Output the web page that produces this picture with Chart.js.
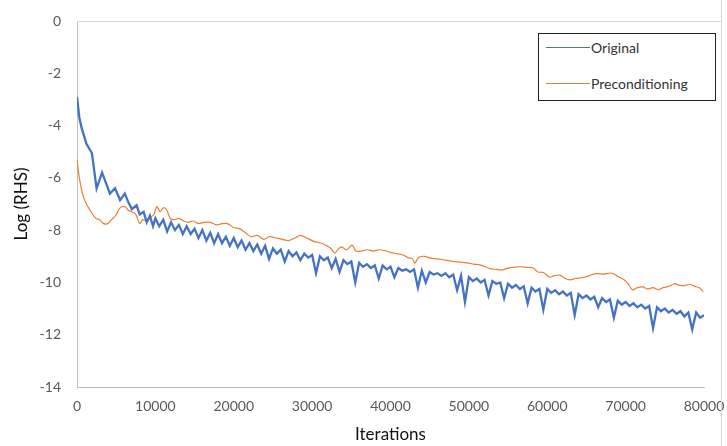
<!DOCTYPE html>
<html>
<head>
<meta charset="utf-8">
<script src="https://cdn.jsdelivr.net/npm/chart.js@4/dist/chart.umd.min.js"></script>
<style>
  body { margin: 0; background: #fff; }
  #wrap { position: relative; width: 727px; height: 446px; }
  #legend {
    position: absolute; left: 538px; top: 33px; width: 176px; height: 66px;
    border: 1.5px solid #222; background: #fff; font-family: Lato, "Open Sans", sans-serif;
    font-size: 14px; color: #333;
  }
  .row { position: absolute; left: 7px; display: flex; align-items: center; }
  .row span.line { display: inline-block; width: 44px; height: 0; border-top: 1.3px solid; margin-right: 1px; }
</style>
</head>
<body>
<div id="wrap">
  <canvas id="chart" width="727" height="446"></canvas>
  <div id="legend"></div>
</div>
<script>
const seriesNames = ['Original', 'Preconditioning'];
const seriesColors = ['#4472C4', '#ED7D31'];
const xTicks = [0, 10000, 20000, 30000, 40000, 50000, 60000, 70000, 80000];
const yTicks = [0, -2, -4, -6, -8, -10, -12, -14];

// Original (blue)
const origX = [
    0, 300, 600, 1200, 1900, 2500, 3200, 3700, 4200, 4850, 5500, 6100, 6500, 7000, 7600, 8000, 8500, 8900, 9300, 9700,
    10000, 10500, 11000, 11500, 12000, 12500, 13000, 13500, 14000, 14500, 15000, 15500, 16000, 16500, 17000, 17500,
    18000, 18500, 19000, 19500, 20000, 20500, 21000, 21500, 22000, 22500, 23000, 23500, 24000, 24500, 25000, 25500,
    26000, 26500, 27000, 27500, 28000, 28500, 29000, 29500, 30000, 30500, 31000, 31500, 32000, 32500, 33000, 33500,
    34000, 34500, 35000, 35500, 36000, 36500, 37000, 37500, 38000, 38500, 39000, 39500, 40000, 40500, 41000, 41500,
    42000, 42500, 43000, 43500, 44000, 44500, 45000, 45500, 46000, 46500, 47000, 47500, 48000, 48500, 49000, 49500,
    50000, 50500, 51000, 51500, 52000, 52500, 53000, 53500, 54000, 54500, 55000, 55500, 56000, 56500, 57000, 57500,
    58000, 58500, 59000, 59500, 60000, 60500, 61000, 61500, 62000, 62500, 63000, 63500, 64000, 64500, 65000, 65500,
    66000, 66500, 67000, 67500, 68000, 68500, 69000, 69500, 70000, 70500, 71000, 71500, 72000, 72500, 73000, 73500,
    74000, 74500, 75000, 75500, 76000, 76500, 77000, 77500, 78000, 78500, 79000, 79500, 80000
];
const origY = [
    -2.9, -3.7, -4.1, -4.7, -5.05, -6.4, -5.8, -6.2, -6.6, -6.4, -6.85, -6.6, -6.9, -7.2, -7.05, -7.4, -7.3, -7.7, -7.45, -7.85,
    -7.55, -7.85, -7.6, -8.05, -7.7, -8.0, -7.8, -8.15, -7.85, -8.15, -7.95, -8.3, -8.0, -8.4, -8.1, -8.5,
    -8.15, -8.5, -8.25, -8.6, -8.3, -8.65, -8.4, -8.75, -8.5, -8.8, -8.55, -8.9, -8.6, -9.1, -8.7, -8.9,
    -8.75, -9.2, -8.8, -9.0, -8.85, -9.15, -8.9, -9.05, -8.95, -9.65, -9.0, -9.15, -9.05, -9.45, -9.1, -9.6,
    -9.15, -9.3, -9.2, -10.0, -9.25, -9.4, -9.3, -9.45, -9.35, -9.85, -9.35, -9.5, -9.4, -9.8, -9.45, -9.55,
    -9.5, -9.6, -9.5, -10.2, -9.55, -10.0, -9.6, -9.7, -9.65, -9.75, -9.65, -9.8, -9.7, -10.3, -9.75, -10.75,
    -9.8, -9.95, -9.85, -10.0, -9.9, -10.5, -9.95, -10.05, -10.0, -10.6, -10.05, -10.2, -10.1, -10.25, -10.15, -10.8,
    -10.2, -10.35, -10.25, -11.05, -10.25, -10.4, -10.3, -10.45, -10.35, -10.5, -10.4, -11.25, -10.45, -10.6, -10.5, -10.65,
    -10.55, -10.95, -10.6, -10.75, -10.65, -11.35, -10.7, -10.85, -10.75, -10.9, -10.8, -10.95, -10.85, -11.0, -10.9, -11.75,
    -10.95, -11.1, -11.0, -11.15, -11.05, -11.2, -11.1, -11.3, -11.15, -11.8, -11.15, -11.35, -11.25
];

// Preconditioning (orange)
const preX = [
    0, 300, 700, 1200, 1800, 2400, 2900, 3400, 3900, 4400, 4900, 5500, 6100, 6600, 7000, 7500, 8000, 8400, 8900, 9400,
    9800, 10200, 10600, 11000, 11400, 11900, 12400, 13000, 13600, 14200, 14800, 15500, 16200, 17000, 17800, 18500,
    19200, 20000, 20800, 21500, 22200, 23000, 23800, 24600, 25400, 26200, 27000, 27800, 28500, 29300, 30000, 30400,
    31200, 31900, 32400, 32900, 33400, 33800, 34400, 35100, 35600, 36300, 37000, 37800, 38500, 39200, 40000, 40800,
    41600, 42200, 42800, 43100, 43600, 44300, 45200, 46000, 47000, 48000, 48900, 49800, 50600, 51400, 52100, 52700,
    53500, 54300, 55000, 55800, 56500, 57300, 58200, 58800, 59500, 60300, 60800, 61600, 62300, 62900, 63600, 64300,
    65000, 65700, 66400, 67200, 68000, 68500, 69200, 69800, 70300, 70900, 71500, 72200, 72800, 73500, 74200, 74800,
    75500, 76200, 76800, 77500, 78200, 78800, 79400, 79900
];
const preY = [
    -5.3, -6.0, -6.6, -7.0, -7.3, -7.55, -7.6, -7.75, -7.75, -7.6, -7.45, -7.15, -7.1, -7.25, -7.3, -7.4, -7.75, -7.6, -7.65, -7.5,
    -7.4, -7.1, -7.3, -7.15, -7.2, -7.55, -7.6, -7.55, -7.65, -7.7, -7.65, -7.75, -7.7, -7.7, -7.8, -7.75,
    -7.75, -7.9, -7.95, -8.1, -8.25, -8.2, -8.35, -8.25, -8.3, -8.35, -8.4, -8.3, -8.2, -8.3, -8.4, -8.45,
    -8.5, -8.6, -8.7, -8.88, -8.7, -8.65, -8.75, -8.57, -8.8, -8.8, -8.75, -8.8, -8.75, -8.78, -8.85, -8.9,
    -8.95, -9.05, -9.1, -9.26, -9.05, -9.0, -9.08, -9.1, -9.15, -9.2, -9.22, -9.25, -9.3, -9.33, -9.4, -9.47,
    -9.5, -9.52, -9.45, -9.42, -9.4, -9.42, -9.45, -9.6, -9.62, -9.8, -9.75, -9.72, -9.85, -9.9, -9.85, -9.82,
    -9.78, -9.7, -9.66, -9.68, -9.64, -9.68, -9.8, -9.9, -10.05, -10.29, -10.2, -10.17, -10.25, -10.2, -10.28, -10.2,
    -10.15, -10.05, -10.1, -10.12, -10.08, -10.15, -10.2, -10.35
];

const toPoints = (xs, ys) => xs.map((x, i) => ({ x: x, y: ys[i] }));

const tickColor = '#595959';
const axisColor = '#BFBFBF';
const fontFamily = 'Lato, "Open Sans", sans-serif';

// chart frame line on the right and top gridline, like the spreadsheet export
const framePlugin = {
    id: 'frame',
    afterDraw(chart) {
        const ctx = chart.ctx;
        const area = chart.chartArea;
        ctx.save();
        ctx.strokeStyle = '#D9D9D9';
        ctx.lineWidth = 1;
        ctx.beginPath();
        ctx.moveTo(area.left, area.top + 0.5);
        ctx.lineTo(721, area.top + 0.5);
        ctx.moveTo(721.5, 0);
        ctx.lineTo(721.5, 446);
        ctx.stroke();
        ctx.restore();
    }
};

new Chart(document.getElementById('chart'), {
    type: 'scatter',
    data: {
        datasets: [{
            label: seriesNames[0],
            data: toPoints(origX, origY),
            showLine: true,
            borderColor: seriesColors[0],
            borderWidth: 2.3,
            pointRadius: 0,
            tension: 0
        }, {
            label: seriesNames[1],
            data: toPoints(preX, preY),
            showLine: true,
            borderColor: seriesColors[1],
            borderWidth: 1.2,
            pointRadius: 0,
            tension: 0.3
        }]
    },
    options: {
        responsive: false,
        animation: false,
        layout: { padding: { top: 21, right: 23, left: 0, bottom: 0 } },
        plugins: {
            legend: { display: false },
            tooltip: { enabled: false }
        },
        scales: {
            x: {
                type: 'linear',
                min: 0,
                max: 80000,
                afterBuildTicks: s => { s.ticks = xTicks.map(v => ({ value: v })); },
                afterFit: s => { s.height = 59; s.paddingLeft = 0; s.paddingRight = 0; },
                grid: { display: false, drawTicks: false },
                border: { color: axisColor, width: 1 },
                ticks: {
                    color: tickColor,
                    padding: 11,
                    maxRotation: 0,
                    font: { family: fontFamily, size: 14 },
                    callback: v => String(v)
                },
                title: {
                    display: true,
                    text: 'Iterations',
                    color: '#111',
                    font: { family: fontFamily, size: 17 },
                    padding: { top: 0, bottom: 1 }
                }
            },
            y: {
                min: -14,
                max: 0,
                afterBuildTicks: s => { s.ticks = yTicks.map(v => ({ value: v })); },
                afterFit: s => { s.width = 77; s.paddingTop = 0; s.paddingBottom = 0; },
                grid: { display: false, drawTicks: false },
                border: { color: axisColor, width: 1 },
                ticks: {
                    color: tickColor,
                    padding: 16,
                    font: { family: fontFamily, size: 14 }
                },
                title: {
                    display: true,
                    text: 'Log (RHS)',
                    color: '#111',
                    font: { family: fontFamily, size: 17 },
                    padding: { top: 11, bottom: 0 }
                }
            }
        }
    },
    plugins: [framePlugin]
});

// legend box built from the series names and colours
const legend = document.getElementById('legend');
seriesNames.forEach((name, i) => {
    const row = document.createElement('div');
    row.className = 'row';
    row.style.top = (i === 0 ? 5 : 41) + 'px';
    row.innerHTML = `<span class="line" style="border-color:${seriesColors[i]}"></span><span>${name}</span>`;
    legend.appendChild(row);
});
</script>
</body>
</html>
